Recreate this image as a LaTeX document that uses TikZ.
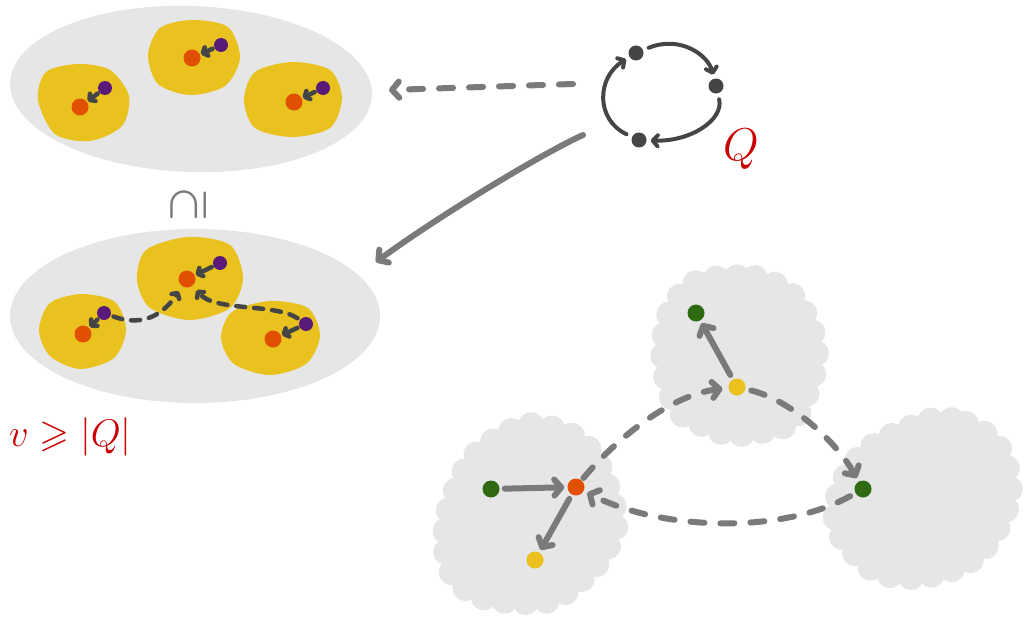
\documentclass[tikz,border=0pt]{standalone}
\usepackage{amssymb}
\usetikzlibrary{arrows.meta,decorations.markings}

\definecolor{paleg}{HTML}{E6E6E6}
\definecolor{blobyellow}{HTML}{E9C21F}
\definecolor{dotorange}{HTML}{E05000}
\definecolor{dotpurple}{HTML}{5A1A7A}
\definecolor{dotgreen}{HTML}{2F6A12}
\definecolor{dotyellow}{HTML}{EBC11E}
\definecolor{inkdark}{HTML}{454545}
\definecolor{inkgrey}{HTML}{7A7A7A}
\definecolor{inkred}{HTML}{C80000}

\newcommand{\subsetsign}{\scalebox{1.6}{\rotatebox{90}{\Huge\boldmath$\supseteq$}}}

\begin{document}
\begin{tikzpicture}[x=1pt,y=-1pt,
  dot/.style={circle,inner sep=0pt,minimum size=17pt},
  sdot/.style={circle,inner sep=0pt,minimum size=14pt},
  qdot/.style={circle,inner sep=0pt,minimum size=15pt,fill=inkdark},
  darr/.style={draw=inkdark,line width=4.5pt,line cap=round,
    -{Straight Barb[round,length=4pt,width=9pt]},shorten <=2pt,shorten >=1pt},
  ddash/.style={darr,dash pattern=on 9pt off 9pt},
  cyc/.style={draw=inkdark,line width=4pt,line cap=round,
    -{Straight Barb[round,length=5pt,width=11pt]},shorten <=6pt,shorten >=4pt},
  garr/.style={draw=inkgrey,line width=6pt,line cap=round,
    -{Straight Barb[round,length=7pt,width=16pt]}},
  gdash/.style={garr,dash pattern=on 14pt off 16pt},
  cloud/.style={fill=paleg,postaction={decorate,decoration={markings,
    mark=between positions 0 and 1 step 21pt with {\fill[paleg] (0,0) circle (13pt);}}}},
  redtext/.style={text=inkred,inner sep=0pt}
]
\useasboundingbox (0,0) rectangle (1027,618);

% ---------- upper set of blobs ----------
\fill[paleg] (191,89) ellipse [x radius=181, y radius=83, rotate=-2];
\fill[blobyellow] plot[smooth cycle] coordinates
  {(38,100) (46,72) (78,64) (110,70) (129,96) (122,126) (90,141) (55,134)};
\fill[blobyellow] plot[smooth cycle] coordinates
  {(148,55) (160,28) (192,20) (228,27) (240,58) (225,86) (190,95) (158,84)};
\fill[blobyellow] plot[smooth cycle] coordinates
  {(244,100) (255,72) (292,62) (330,70) (342,98) (330,128) (292,137) (255,128)};

\node[dot,fill=dotorange] (ao1) at (80,107) {};
\node[sdot,fill=dotpurple] (ap1) at (105,88) {};
\node[dot,fill=dotorange] (ao2) at (192,58) {};
\node[sdot,fill=dotpurple] (ap2) at (221,45) {};
\node[dot,fill=dotorange] (ao3) at (294,102) {};
\node[sdot,fill=dotpurple] (ap3) at (323,88) {};
\draw[darr] (ap1) -- (ao1);
\draw[darr] (ap2) -- (ao2);
\draw[darr] (ap3) -- (ao3);

% containment sign between the two sets
\node[text=inkgrey,inner sep=0pt] (subsign) at (189,205) {\subsetsign};

% ---------- lower set of blobs ----------
\fill[paleg] (195,316) ellipse [x radius=185, y radius=87];
\fill[blobyellow] plot[smooth cycle] coordinates
  {(137,280) (146,250) (188,237) (230,245) (243,278) (230,308) (190,320) (150,308)};
\fill[blobyellow] plot[smooth cycle] coordinates
  {(39,330) (50,303) (82,294) (115,302) (126,330) (114,358) (80,369) (50,356)};
\fill[blobyellow] plot[smooth cycle] coordinates
  {(221,338) (232,312) (270,301) (308,308) (320,336) (306,364) (270,375) (234,364)};

\node[dot,fill=dotorange] (bo2) at (187,279) {};
\node[sdot,fill=dotpurple] (bp2) at (220,263) {};
\node[dot,fill=dotorange] (bo1) at (83,334) {};
\node[sdot,fill=dotpurple] (bp1) at (104,313) {};
\node[dot,fill=dotorange] (bo3) at (273,339) {};
\node[sdot,fill=dotpurple] (bp3) at (306,324) {};
\draw[darr] (bp1) -- (bo1);
\draw[darr] (bp2) -- (bo2);
\draw[darr] (bp3) -- (bo3);
\draw[ddash,shorten <=3pt,shorten >=6pt] (bp1) .. controls (145,328) and (165,312) .. (bo2);
\draw[ddash,shorten <=3pt,shorten >=6pt] (bp3) .. controls (275,303) and (215,312) .. (bo2);

\node[redtext,anchor=west] (bound) at (9,437) {\scalebox{1.55}{\Huge$v \geqslant |Q|$}};

% ---------- the cycle Q ----------
\node[qdot] (qt) at (636,53) {};
\node[qdot] (qr) at (716,86) {};
\node[qdot] (qb) at (639,140) {};
\draw[cyc] (qt) .. controls (680,35) and (708,55) .. (qr);
\draw[cyc] (qr) .. controls (724,120) and (690,142) .. (qb);
\draw[cyc] (qb) .. controls (596,120) and (596,78) .. (qt);
\node[redtext] (qlabel) at (741,149) {\scalebox{1.85}{\Huge$Q$}};

% maps from the cycle
\coordinate (m1s) at (573,84);
\coordinate (m1e) at (389,90);
\coordinate (m2s) at (583,135);
\coordinate (m2e) at (376,262);
\draw[gdash] (m1s) -- (m1e);
\draw[garr] (m2s) .. controls (545,152) and (440,215) .. (m2e);

% ---------- target graph ----------
\path[cloud] plot[smooth cycle] coordinates
  {(705,280) (755,278) (790,294) (810,325) (816,360) (806,395) (792,422) (762,431) (730,434) (704,425) (680,412) (668,385) (663,350) (669,315) (684,292)};
\path[cloud] plot[smooth cycle] coordinates
  {(533,425) (572,436) (596,460) (616,520) (598,562) (558,597) (520,602) (474,594) (449,566) (447,517) (470,462) (502,436)};
\path[cloud] plot[smooth cycle] coordinates
  {(933,420) (966,424) (990,438) (1004,458) (1010,490) (1002,520) (980,553) (955,568) (917,577) (878,572) (852,550) (837,527) (837,500) (851,468) (878,443)};

\node[dot,fill=dotgreen] (g1) at (696,313) {};
\node[dot,fill=dotyellow] (y1) at (737,387) {};
\node[dot,fill=dotgreen] (g2) at (491,489) {};
\node[dot,fill=dotorange] (o2) at (576,487) {};
\node[dot,fill=dotyellow] (y2) at (535,560) {};
\node[dot,fill=dotgreen] (g3) at (863,489) {};

\draw[garr,shorten <=5pt,shorten >=3pt] (g2) -- (o2);
\draw[garr,shorten <=5pt,shorten >=3pt] (o2) -- (y2);
\draw[garr,shorten <=5pt,shorten >=3pt] (y1) -- (g1);
\draw[gdash,shorten <=3pt,shorten >=6pt] (o2) .. controls (615,440) and (670,395) .. (y1);
\draw[gdash,shorten <=6pt,shorten >=4pt] (y1) .. controls (790,400) and (835,440) .. (g3);
\draw[gdash,shorten <=6pt,shorten >=4pt] (g3) .. controls (780,535) and (660,530) .. (o2);
\end{tikzpicture}
\end{document}
